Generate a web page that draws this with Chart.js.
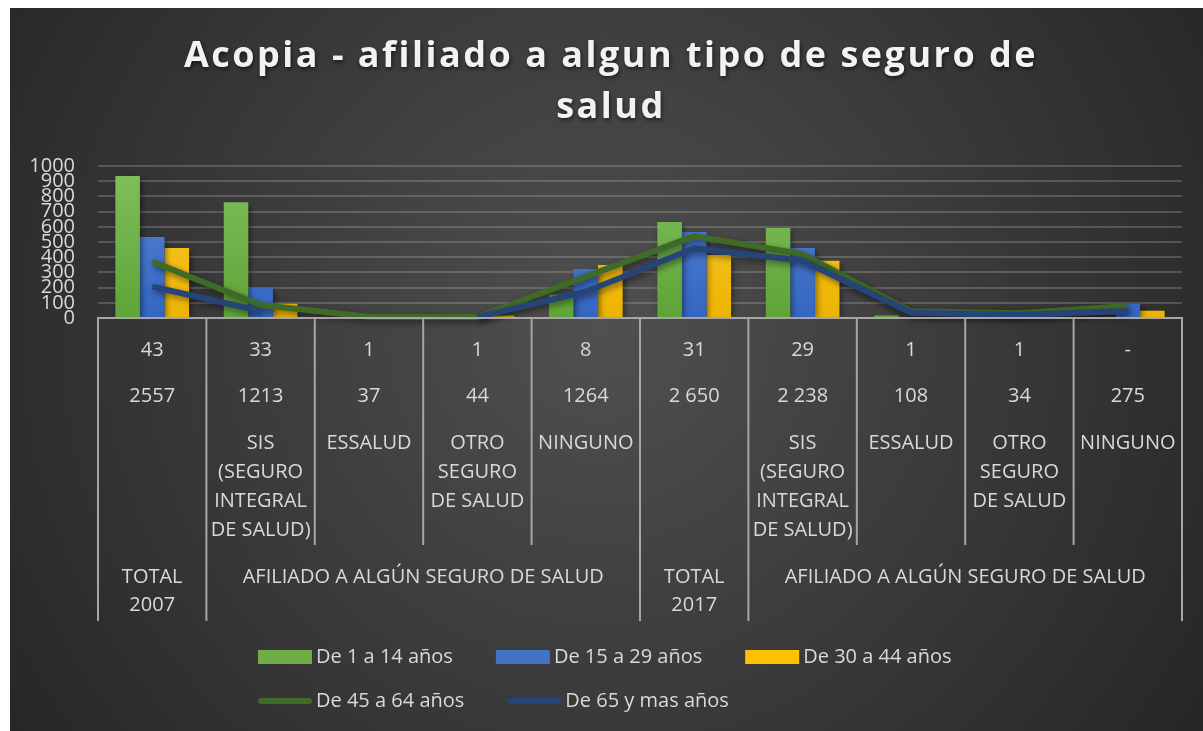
<!DOCTYPE html>
<html>
<head>
<meta charset="utf-8">
<script src="https://cdn.jsdelivr.net/npm/chart.js@4.4.1/dist/chart.umd.min.js"></script>
<style>
html, body { margin: 0; padding: 0; background: #ffffff; }
#wrap { width: 1203px; height: 731px; }
</style>
</head>
<body>
<div id="wrap"><canvas id="chart"></canvas></div>
<script>
// categorias (eje x)
const categorias = ['TOTAL 2007', 'SIS', 'ESSALUD', 'OTRO SEGURO DE SALUD', 'NINGUNO',
                    'TOTAL 2017', 'SIS', 'ESSALUD', 'OTRO SEGURO DE SALUD', 'NINGUNO'];
// filas de la tabla bajo el eje
const fila1 = ['43', '33', '1', '1', '8', '31', '29', '1', '1', '-'];
const fila2 = ['2557', '1213', '37', '44', '1264', '2 650', '2 238', '108', '34', '275'];
const fila3 = [[], ['SIS', '(SEGURO', 'INTEGRAL', 'DE SALUD)'], ['ESSALUD'], ['OTRO', 'SEGURO', 'DE SALUD'], ['NINGUNO'],
               [], ['SIS', '(SEGURO', 'INTEGRAL', 'DE SALUD)'], ['ESSALUD'], ['OTRO', 'SEGURO', 'DE SALUD'], ['NINGUNO']];
const grupos = [['TOTAL', '2007'], ['AFILIADO A ALGÚN SEGURO DE SALUD'], ['TOTAL', '2017'], ['AFILIADO A ALGÚN SEGURO DE SALUD']];
const grupoInicio = [0, 1, 5, 6];
const grupoFin = [0, 4, 5, 9];

// series
const de1a14 = [934, 762, 2, 2, 153, 631, 592, 17, 2, 5];
const de15a29 = [533, 201, 3, 3, 323, 565, 461, 5, 3, 94];
const de30a44 = [461, 94, 3, 16, 349, 415, 376, 3, 3, 48];
const de45a64 = [371, 85, 9, 6, 272, 539, 421, 45, 31, 79];
const de65mas = [206, 46, null, 6, 173, 459, 377, 35, 20, 46];

const ejeY = [0, 1000, 100];
const titulo = ['Acopia - afiliado a algun tipo de seguro de', 'salud'];

const txtColor = '#d9d9d9';
const fontFam = "'Open Sans', 'Liberation Sans', sans-serif";

function grad(top, bottom) {
    return function (context) {
        const area = context.chart.chartArea;
        if (!area) return bottom;
        const g = context.chart.ctx.createLinearGradient(0, area.top, 0, area.bottom);
        g.addColorStop(0, top);
        g.addColorStop(1, bottom);
        return g;
    };
}

const fondo = {
    id: 'fondo',
    beforeDraw(chart) {
        const ctx = chart.ctx;
        ctx.save();
        const g = ctx.createRadialGradient(600, 330, 0, 600, 330, 720);
        g.addColorStop(0, '#505050');
        g.addColorStop(1, '#262626');
        ctx.fillStyle = g;
        ctx.fillRect(10, 8, 1193, 723);
        // titulo con espaciado entre letras
        ctx.font = 'bold 36px ' + fontFam;
        ctx.letterSpacing = '2.5px';
        ctx.textAlign = 'center';
        ctx.textBaseline = 'middle';
        ctx.fillStyle = '#f2f2f2';
        ctx.shadowColor = 'rgba(0,0,0,0.6)';
        ctx.shadowBlur = 4;
        ctx.shadowOffsetX = 1;
        ctx.shadowOffsetY = 2;
        titulo.forEach((t, k) => ctx.fillText(t, 611, 57 + k * 51));
        ctx.restore();
    }
};

const sombra = {
    id: 'sombra',
    beforeDatasetDraw(chart) {
        const ctx = chart.ctx;
        ctx.save();
        ctx.shadowColor = 'rgba(0,0,0,0.45)';
        ctx.shadowBlur = 6;
        ctx.shadowOffsetX = 2;
        ctx.shadowOffsetY = 3;
    },
    afterDatasetDraw(chart) {
        chart.ctx.restore();
    }
};

const tabla = {
    id: 'tabla',
    afterDraw(chart) {
        const ctx = chart.ctx;
        const x = chart.scales.x;
        const top = chart.chartArea.bottom;
        const n = categorias.length;
        const half = (x.getPixelForValue(1) - x.getPixelForValue(0)) / 2;
        const edge = i => i < n ? x.getPixelForValue(i) - half : x.getPixelForValue(n - 1) + half;
        ctx.save();
        ctx.strokeStyle = '#a6a6a6';
        ctx.lineWidth = 2;
        ctx.beginPath();
        ctx.moveTo(edge(0) - 1, top);
        ctx.lineTo(edge(n) + 1, top);
        for (let i = 0; i <= n; i++) {
            const esGrupo = i === n || grupoInicio.includes(i);
            ctx.moveTo(edge(i), top);
            ctx.lineTo(edge(i), esGrupo ? top + 303 : top + 227);
        }
        ctx.stroke();

        ctx.fillStyle = txtColor;
        ctx.font = '20px ' + fontFam;
        ctx.textAlign = 'center';
        ctx.textBaseline = 'middle';
        for (let i = 0; i < n; i++) {
            const cx = x.getPixelForValue(i);
            ctx.fillText(fila1[i], cx, top + 32);
            ctx.fillText(fila2[i], cx, top + 78);
            fila3[i].forEach((t, k) => ctx.fillText(t, cx, top + 125 + k * 29));
        }
        grupos.forEach((g, j) => {
            const cx = (edge(grupoInicio[j]) + edge(grupoFin[j] + 1)) / 2;
            g.forEach((t, k) => ctx.fillText(t, cx, top + 259 + k * 28));
        });
        ctx.restore();
    }
};

const leyenda = {
    id: 'leyenda',
    afterDraw(chart) {
        const ctx = chart.ctx;
        const filas = [[0, 1, 2], [3, 4]];
        const caja = 54, sep = 4, hueco = 43;
        ctx.save();
        ctx.font = '20px ' + fontFam;
        ctx.textBaseline = 'middle';
        const ancho = idx => idx.reduce((s, i) => s + caja + sep + ctx.measureText(chart.data.datasets[i].label).width, 0) + hueco * (idx.length - 1);
        const x0 = 258;
        filas.forEach((fila, r) => {
            let xx = x0;
            const yy = 657 + r * 44;
            fila.forEach(i => {
                const ds = chart.data.datasets[i];
                if (ds.type === 'line') {
                    ctx.strokeStyle = ds.borderColor;
                    ctx.lineWidth = 6;
                    ctx.lineCap = 'round';
                    ctx.beginPath();
                    ctx.moveTo(xx + 3, yy);
                    ctx.lineTo(xx + caja - 3, yy);
                    ctx.stroke();
                } else {
                    ctx.fillStyle = ds.legendColor;
                    ctx.fillRect(xx, yy - 7, caja, 14);
                }
                ctx.fillStyle = txtColor;
                ctx.fillText(ds.label, xx + caja + sep, yy);
                xx += caja + sep + ctx.measureText(ds.label).width + hueco;
            });
        });
        ctx.restore();
    }
};

const config = {
    data: {
        labels: categorias,
        datasets: [
            { type: 'bar', label: 'De 1 a 14 años', data: de1a14, backgroundColor: grad('#80bf5e', '#5fa437'), legendColor: '#70ad47', order: 3 },
            { type: 'bar', label: 'De 15 a 29 años', data: de15a29, backgroundColor: grad('#5a87d6', '#3366c2'), legendColor: '#4472c4', order: 3 },
            { type: 'bar', label: 'De 30 a 44 años', data: de30a44, backgroundColor: grad('#ffca3a', '#ecb400'), legendColor: '#ffc000', order: 3 },
            { type: 'line', label: 'De 45 a 64 años', data: de45a64, borderColor: '#3f6a28', borderWidth: 6, pointRadius: 0, clip: false, spanGaps: false, order: 2 },
            { type: 'line', label: 'De 65 y mas años', data: de65mas, borderColor: '#264478', borderWidth: 6, pointRadius: 0, clip: false, spanGaps: false, order: 1 }
        ]
    },
    options: {
        responsive: false,
        animation: false,
        layout: { padding: { left: 10, top: 166, right: 21, bottom: 413 } },
        datasets: {
            bar: { barPercentage: 1, categoryPercentage: 0.68 }
        },
        plugins: {
            legend: { display: false },
            tooltip: { enabled: false },
            title: { display: false }
        },
        scales: {
            x: { display: false },
            y: {
                min: ejeY[0],
                max: ejeY[1],
                afterFit(scale) { scale.width = 88; },
                border: { display: false },
                grid: { color: 'rgba(200,200,200,0.25)', lineWidth: 2, drawTicks: false },
                ticks: {
                    stepSize: ejeY[2],
                    autoSkip: false,
                    color: txtColor,
                    padding: 23,
                    font: { family: fontFam, size: 20 },
                    callback: v => String(v)
                }
            }
        }
    },
    plugins: [fondo, sombra, tabla, leyenda]
};

const canvas = document.getElementById('chart');
canvas.width = 1203;
canvas.height = 731;
const chart = new Chart(canvas, config);
</script>
</body>
</html>
